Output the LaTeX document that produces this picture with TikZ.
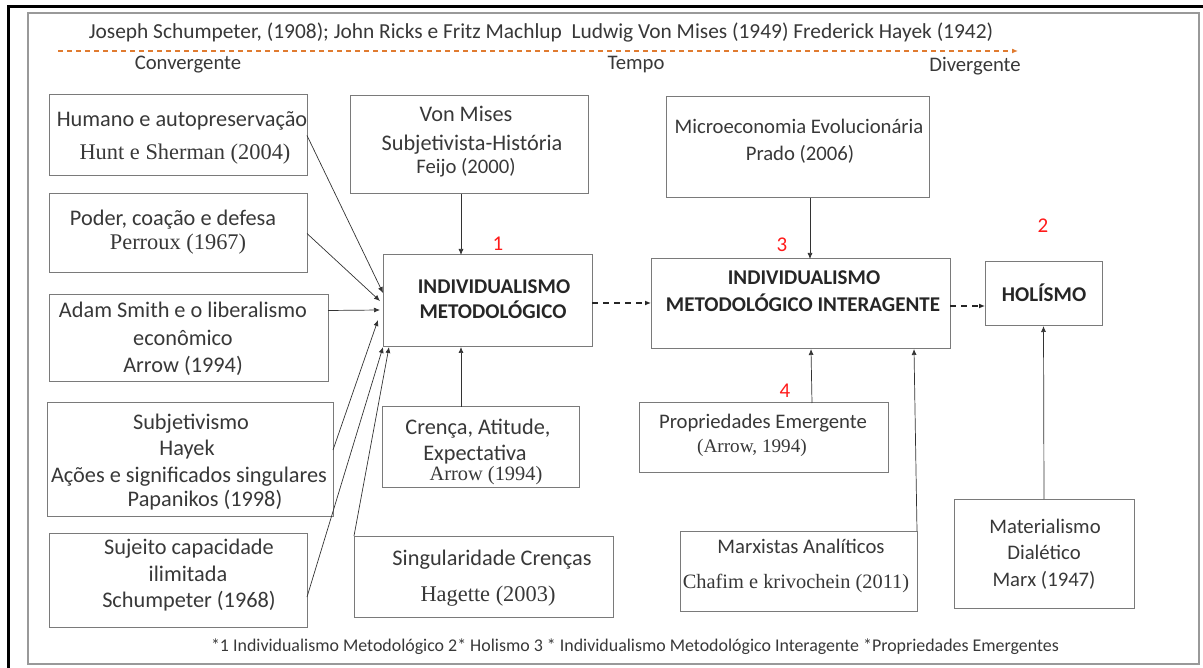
\documentclass[tikz,border=0pt]{standalone}
\usepackage{fontspec}
\setmainfont{Carlito}
\newfontfamily\tnr{Liberation Serif}
\usetikzlibrary{arrows.meta}
\definecolor{ink}{HTML}{383838}
\definecolor{boxline}{HTML}{7A7A7A}
\definecolor{tline}{HTML}{E07B30}
\definecolor{mark}{HTML}{FF1A1A}

% box from its corners (x1,y1) to (x2,y2)
\newcommand\mkbox[5]{%
  \node[box, minimum width={#4-#2}, minimum height={#5-#3}] (#1) at ({(#2+#4)/2},{(#3+#5)/2}) {};}

\begin{document}
\begin{tikzpicture}[x=1pt,y=-1pt,
  box/.style={draw=boxline, line width=1pt, inner sep=0, outer sep=0},
  lbl/.style={inner sep=0, text=ink, text height=1.5ex, text depth=.25ex, yshift=-4pt},
  cal/.style={lbl, font=\fontsize{22.3}{26}\selectfont},
  calr/.style={lbl, font=\fontsize{20.7}{24}\selectfont},
  ser/.style={lbl, font=\tnr\fontsize{22.4}{26}\selectfont},
  serr/.style={lbl, font=\tnr\fontsize{20.4}{24}\selectfont},
  sers/.style={lbl, font=\tnr\fontsize{19.2}{23}\selectfont},
  bld/.style={lbl, text=black!85, font=\bfseries\fontsize{21}{24}\selectfont},
  num/.style={inner sep=0, text=mark, font=\fontsize{21}{24}\selectfont},
  note/.style={lbl, font=\fontsize{17.9}{21}\selectfont},
  arr/.style={-{Latex[length=6pt,width=5pt]}, line width=0.7pt, draw=black!80},
  darr/.style={-{Latex[length=6pt,width=5pt]}, line width=1.2pt, draw=black!85, dash pattern=on 6pt off 5pt},
]
\useasboundingbox (0,0) rectangle (1203,668);

% page frames
\draw[line width=3pt] (7,6.5) -- (1203,6.5);
\draw[line width=3pt] (8.5,6.5) -- (8.5,668);
\draw[draw=black!40, line width=2pt] (28,13) rectangle (1199,664);

% time line
\node[lbl, font=\fontsize{21.4}{25}\selectfont] (top) at (541,32) {Joseph Schumpeter, (1908); John Ricks e Fritz Machlup\ \ Ludwig Von Mises (1949) Frederick Hayek (1942)};
\coordinate (t0) at (58,51);
\coordinate (t1) at (1018,51);
\draw[tline, line width=1.3pt, dash pattern=on 5pt off 4pt, -{Latex[length=6pt,width=5pt]}] (t0) -- (t1);
\node[calr] (conv) at (188,63) {Convergente};
\node[calr] (tempo) at (636,63) {Tempo};
\node[calr] (div) at (975,65) {Divergente};

% boxes
\mkbox{A}{49}{95}{307}{176}
\mkbox{B}{49}{194}{307}{273}
\mkbox{C}{49}{295}{328}{382}
\mkbox{D}{47}{403}{333}{516}
\mkbox{E}{49}{533}{307}{627}
\mkbox{F}{350}{96}{588}{194}
\mkbox{G}{383}{255}{592}{347}
\mkbox{I}{382}{407}{579}{487}
\mkbox{J}{354}{536}{613}{617}
\mkbox{K}{666}{97}{929}{198}
\mkbox{H}{651}{259}{950}{349}
\mkbox{L}{985}{262}{1102}{326}
\mkbox{M}{639}{403}{888}{472}
\mkbox{N}{680}{531}{917}{611}
\mkbox{O}{954}{499}{1134}{608}

% box texts
\node[cal] (A1) at (182,120) {Humano e autopreservação};
\node[ser] (A2) at (185,153) {Hunt e Sherman (2004)};
\node[cal] (B1) at (173,219) {Poder, coação e defesa};
\node[ser] (B2) at (178,243) {Perroux (1967)};
\node[cal] (C1) at (183,311) {Adam Smith e o liberalismo};
\node[cal] (C2) at (183,339) {econômico};
\node[cal] (C3) at (183,366) {Arrow (1994)};
\node[cal] (D1) at (191,423) {Subjetivismo};
\node[cal] (D2) at (187,449) {Hayek};
\node[cal] (D3) at (189,476) {Ações e significados singulares};
\node[cal] (D4) at (205,500) {Papanikos (1998)};
\node[cal] (E1) at (189,548) {Sujeito capacidade};
\node[cal] (E2) at (188,575) {ilimitada};
\node[cal] (E3) at (189,601) {Schumpeter (1968)};
\node[cal] (F1) at (466,115) {Von Mises};
\node[cal] (F2) at (472,144) {Subjetivista-História};
\node[calr] (F3) at (466,167) {Feijo (2000)};
\node[bld] (G1) at (494,287) {INDIVIDUALISMO};
\node[bld] (G2) at (493,312) {METODOLÓGICO};
\node[cal] (I1) at (478,428) {Crença, Atitude,};
\node[cal] (I2) at (475,454) {Expectativa};
\node[serr] (I3) at (486,474) {Arrow (1994)};
\node[cal] (J1) at (492,559) {Singularidade Crenças};
\node[ser] (J2) at (488,595) {Hagette (2003)};
\node[calr] (K1) at (799,127) {Microeconomia Evolucionária};
\node[calr] (K2) at (800,154) {Prado (2006)};
\node[bld] (H1) at (804,278) {INDIVIDUALISMO};
\node[bld] (H2) at (803,305) {METODOLÓGICO INTERAGENTE};
\node[bld] (L1) at (1044,295) {HOLÍSMO};
\node[calr] (M1) at (763,422) {Propriedades Emergente};
\node[sers] (M2) at (752,446) {(Arrow, 1994)};
\node[calr] (N1) at (801,547) {Marxistas Analíticos};
\node[serr] (N2) at (796,582) {Chafim e krivochein (2011)};
\node[calr] (O1) at (1045,527) {Materialismo};
\node[calr] (O2) at (1044,553) {Dialético};
\node[calr] (O3) at (1044,580) {Marx (1947)};

% red markers
\node[num] (n1) at (498,244) {1};
\node[num] (n3) at (782,245) {3};
\node[num] (n2) at (1043,226) {2};
\node[num] (n4) at (785,391) {4};

% inputs of the methodological individualism box
\draw[arr] (A.east) -- ([yshift=8pt]G.west);
\draw[arr] (B.east) -- ([xshift=-3pt]G.west);
\draw[arr] ([yshift=28pt]C.east) -- ([xshift=-3pt,yshift=-9pt]G.west);
\draw[arr] ([yshift=9.5pt]D.east) -- ([xshift=-5pt,yshift=-19pt]G.west);
\draw[arr] ([yshift=-17pt]E.east) -- (G.south west);
\draw[arr] (J.north west) -- ([xshift=6pt]G.south west);
\draw[arr] ([xshift=-8pt]F.south) -- ([xshift=-26.5pt]G.north);
\draw[arr] ([xshift=-19.5pt]I.north) -- ([xshift=-26.5pt]G.south);

% inputs of the interacting box and of holism
\draw[arr] ([xshift=12.5pt]K.south) -- ([xshift=9.5pt]H.north);
\draw[arr] ([xshift=48.5pt]M.north) -- ([xshift=10.5pt]H.south);
\draw[arr] (N.north east) -- ([xshift=113.5pt]H.south);
\draw[arr] (O.north) -- (L.south);

% dashed progression
\draw[darr] ([yshift=-2pt]G.east) -- ([yshift=-2pt]G.east -| H.west);
\draw[darr] ([yshift=-2pt]H.east) -- ([yshift=-2pt]H.east -| L.west);

% footnote
\node[note] (foot) at (635,645) {*1 Individualismo Metodológico 2* Holismo 3 * Individualismo Metodológico Interagente *Propriedades Emergentes};
\end{tikzpicture}
\end{document}
